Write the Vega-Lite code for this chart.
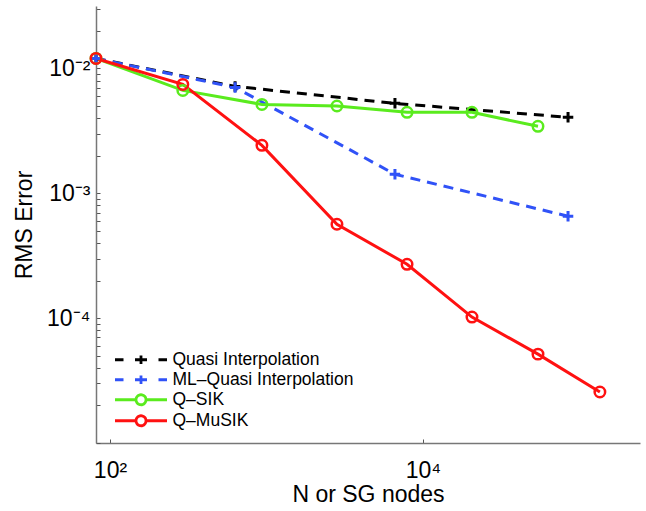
{
  "$schema": "https://vega.github.io/schema/vega-lite/v6.json",
  "width": 544,
  "height": 437,
  "autosize": {"type": "none"},
  "padding": {"left": 96, "top": 6, "right": 6, "bottom": 68},
  "background": "white",
  "config": {"view": {"stroke": null}, "font": "Liberation Sans"},
  "data": {
    "values": [
      {"method": "Quasi Interpolation", "n": 81.4, "rms": 0.01202},
      {"method": "Quasi Interpolation", "n": 630, "rms": 0.00718},
      {"method": "Quasi Interpolation", "n": 6620, "rms": 0.00525},
      {"method": "Quasi Interpolation", "n": 84500, "rms": 0.00406},
      {"method": "ML–Quasi Interpolation", "n": 81.4, "rms": 0.01202},
      {"method": "ML–Quasi Interpolation", "n": 630, "rms": 0.00705},
      {"method": "ML–Quasi Interpolation", "n": 6620, "rms": 0.00142},
      {"method": "ML–Quasi Interpolation", "n": 84500, "rms": 0.000655},
      {"method": "Q–SIK", "n": 81.4, "rms": 0.01202},
      {"method": "Q–SIK", "n": 292, "rms": 0.00667},
      {"method": "Q–SIK", "n": 935, "rms": 0.00515},
      {"method": "Q–SIK", "n": 2820, "rms": 0.005},
      {"method": "Q–SIK", "n": 7910, "rms": 0.00445},
      {"method": "Q–SIK", "n": 20560, "rms": 0.00445},
      {"method": "Q–SIK", "n": 54300, "rms": 0.00344},
      {"method": "Q–MuSIK", "n": 81.4, "rms": 0.01202},
      {"method": "Q–MuSIK", "n": 292, "rms": 0.00745},
      {"method": "Q–MuSIK", "n": 935, "rms": 0.00242},
      {"method": "Q–MuSIK", "n": 2820, "rms": 0.000565},
      {"method": "Q–MuSIK", "n": 7910, "rms": 0.00027},
      {"method": "Q–MuSIK", "n": 20560, "rms": 0.000102},
      {"method": "Q–MuSIK", "n": 54300, "rms": 0.0000515},
      {"method": "Q–MuSIK", "n": 135000, "rms": 0.0000256}
    ]
  },
  "encoding": {
    "x": {
      "field": "n",
      "type": "quantitative",
      "scale": {"type": "log", "domain": [81.4, 243600], "nice": false},
      "axis": {
        "values": [100, 10000],
        "labelExpr": "datum.value == 100 ? '10²' : '10⁴'",
        "grid": false,
        "tickSize": -4,
        "tickColor": "#555555",
        "domainColor": "#777777",
        "domainWidth": 1.5,
        "labelFont": "Liberation Sans",
        "labelFontSize": 23,
        "labelColor": "#000000",
        "labelPadding": 20,
        "title": "N or SG nodes",
        "titleFont": "Liberation Sans",
        "titleFontSize": 23,
        "titleFontWeight": "normal",
        "titleColor": "#000000",
        "titlePadding": 1
      }
    },
    "y": {
      "field": "rms",
      "type": "quantitative",
      "scale": {"type": "log", "domain": [0.00001, 0.031623], "nice": false},
      "axis": {
        "values": [0.00001, 0.00002, 0.00003, 0.00004, 0.00005, 0.00006, 0.00007, 0.00008, 0.00009, 0.0001, 0.0002, 0.0003, 0.0004, 0.0005, 0.0006, 0.0007, 0.0008, 0.0009, 0.001, 0.002, 0.003, 0.004, 0.005, 0.006, 0.007, 0.008, 0.009, 0.01, 0.02, 0.03],
        "labelExpr": "datum.value == 0.01 ? '10⁻²' : datum.value == 0.001 ? '10⁻³' : datum.value == 0.0001 ? '10⁻⁴' : ''",
        "grid": false,
        "tickSize": -4,
        "tickColor": "#555555",
        "domainColor": "#777777",
        "domainWidth": 1.5,
        "labelFont": "Liberation Sans",
        "labelFontSize": 23,
        "labelColor": "#000000",
        "labelPadding": 10,
        "title": "RMS Error",
        "titleFont": "Liberation Sans",
        "titleFontSize": 23,
        "titleFontWeight": "normal",
        "titleColor": "#000000",
        "titlePadding": 10
      }
    },
    "color": {
      "field": "method",
      "type": "nominal",
      "scale": {
        "domain": ["Quasi Interpolation", "ML–Quasi Interpolation", "Q–SIK", "Q–MuSIK"],
        "range": ["#000000", "#3052f7", "#5aeb1e", "#ff1111"]
      },
      "legend": {
        "title": null,
        "orient": "none",
        "legendX": 19,
        "legendY": 345,
        "padding": 0,
        "labelFont": "Liberation Sans",
        "labelFontSize": 17.5,
        "labelColor": "#000000",
        "labelLimit": 400,
        "symbolSize": 100,
        "labelOffset": 40,
        "rowPadding": -1,
        "encode": {
          "symbols": {
            "update": {
              "shape": {"signal": "indexof(datum.value, 'Quasi') >= 0 ? 'M-5.2,0L-3.5,0M3.5,0L5.2,0M-1.2,0L1.2,0M0,-0.85L0,0.85' : 'M-5.2,0L-1,0M1,0L5.2,0M-1,0A1,1 0 1,0 1,0A1,1 0 1,0 -1,0'"},
              "size": {"value": 100},
              "x": {"value": 26},
              "fill": {"value": "transparent"},
              "strokeDash": {"value": [1, 0]},
              "strokeWidth": {"value": 2.8},
              "opacity": {"value": 1}
            }
          }
        }
      }
    }
  },
  "layer": [
    {
      "transform": [{"filter": "indexof(datum.method, 'Quasi') >= 0"}],
      "mark": {"type": "line", "strokeWidth": 3, "strokeDash": [10, 7]}
    },
    {
      "transform": [{"filter": "indexof(datum.method, 'Quasi') < 0"}],
      "mark": {"type": "line", "strokeWidth": 3}
    },
    {
      "transform": [{"filter": "indexof(datum.method, 'Quasi') >= 0"}],
      "mark": {"type": "point", "shape": "M-1,0L1,0M0,-1L0,1", "filled": false, "strokeWidth": 3, "size": 110, "opacity": 1}
    },
    {
      "transform": [{"filter": "indexof(datum.method, 'Quasi') < 0"}],
      "mark": {"type": "point", "shape": "circle", "filled": false, "strokeWidth": 2.5, "size": 110, "opacity": 1}
    }
  ]
}
